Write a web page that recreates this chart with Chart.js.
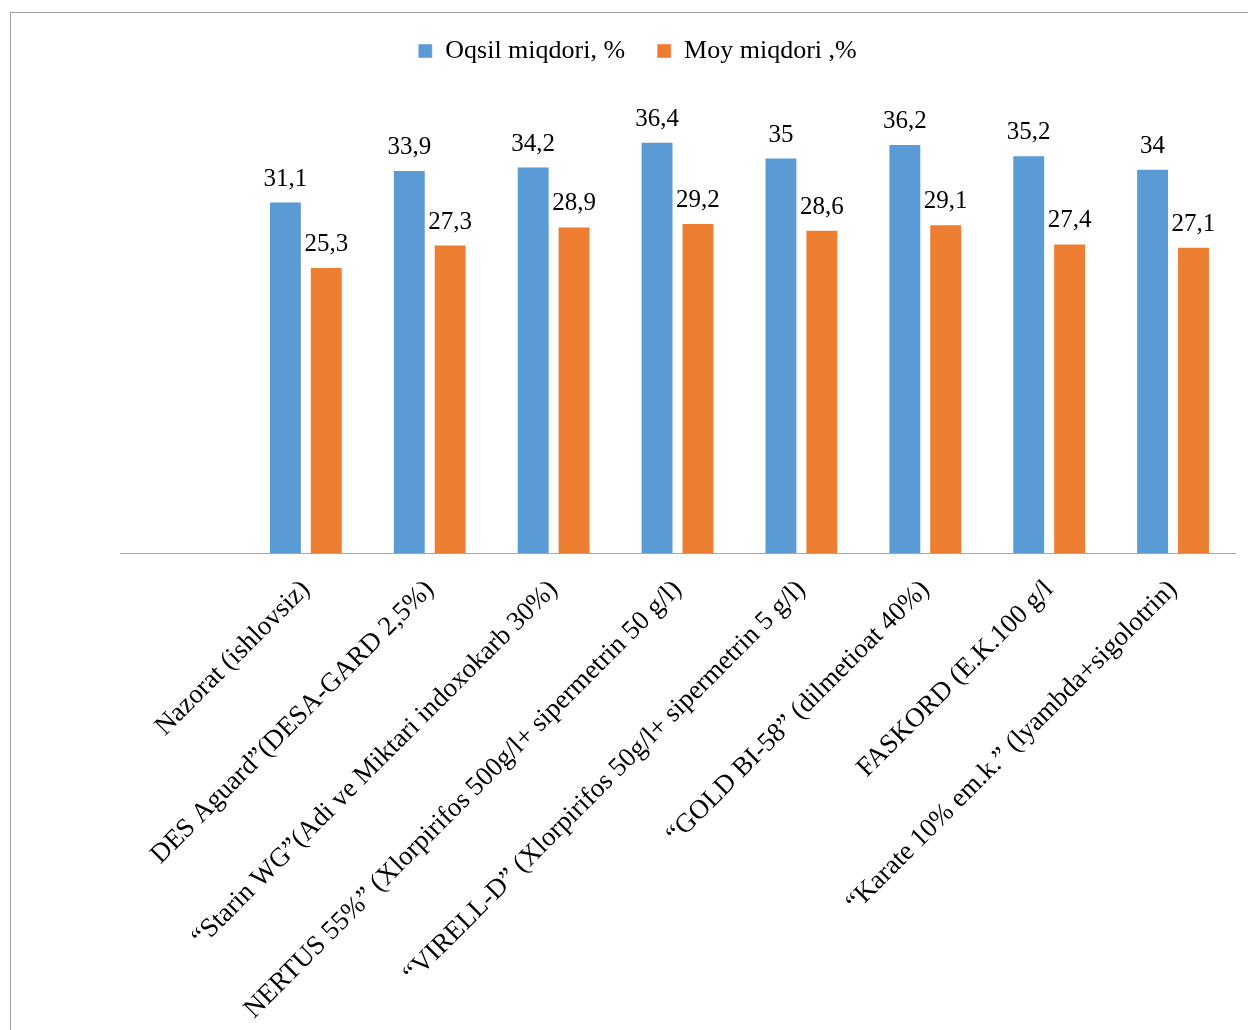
<!DOCTYPE html>
<html><head><meta charset="utf-8">
<script src="https://cdn.jsdelivr.net/npm/chart.js@4.4.1/dist/chart.umd.min.js"></script>
<style>
html,body{margin:0;padding:0;background:#fff;overflow:hidden;width:1248px;height:1030px;}
#frame{position:absolute;left:10px;top:12px;width:1300px;height:1100px;border-left:1px solid #A0A0A0;border-top:1px solid #A0A0A0;}
#c{position:absolute;left:0;top:0;}
</style></head><body>
<div id="frame"></div>
<canvas id="c" width="1282" height="1030"></canvas>
<script>
const categories = [
  "",
  "Nazorat (ishlovsiz)",
  "DES Aguard”(DESA-GARD 2,5%)",
  "“Starin WG”(Adi ve Miktari indoxokarb 30%)",
  "NERTUS 55%” (Xlorpirifos 500g/l+ sipermetrin 50 g/l)",
  "“VIRELL-D” (Xlorpirifos 50g/l+ sipermetrin 5 g/l)",
  "“GOLD BI-58” (dilmetioat 40%)",
  "FASKORD (E.K.100 g/l",
  "“Karate 10% em.k.” (lyambda+sigolotrin)"
];
const oqsilValues = [null, 31.1, 33.9, 34.2, 36.4, 35, 36.2, 35.2, 34];
const moyValues = [null, 25.3, 27.3, 28.9, 29.2, 28.6, 29.1, 27.4, 27.1];
const seriesNames = ["Oqsil miqdori, %", "Moy miqdori ,%"];
const seriesColors = ["#5B9BD5", "#ED7D31"];

const FONT = "'Liberation Serif', 'Times New Roman', serif";

const legendTweak = {
  id: 'legendTweak',
  beforeInit(chart) {
    if (!chart.legend) return;
    const lg = chart.legend;
    const fit = lg.fit;
    lg.fit = function () { fit.call(this); this.height += 27; };
    const draw = lg.draw;
    lg.draw = function () {
      const ctx = this.ctx;
      ctx.save();
      ctx.translate(-40, 0);
      draw.call(this);
      ctx.restore();
    };
  }
};

const valueLabels = {
  id: 'valueLabels',
  afterDatasetsDraw(chart) {
    const ctx = chart.ctx;
    ctx.save();
    ctx.font = "25px " + FONT;
    ctx.fillStyle = '#000';
    ctx.textAlign = 'center';
    ctx.textBaseline = 'alphabetic';
    chart.data.datasets.forEach((ds, i) => {
      const meta = chart.getDatasetMeta(i);
      meta.data.forEach((el, j) => {
        const v = ds.data[j];
        if (v == null) return;
        ctx.fillText(String(v).replace('.', ','), el.x, el.y - 16);
      });
    });
    ctx.restore();
  }
};

new Chart(document.getElementById('c'), {
  type: 'bar',
  data: {
    labels: categories,
    datasets: [
      { label: seriesNames[0], data: oqsilValues, backgroundColor: seriesColors[0], borderColor: 'rgba(255,255,255,0.4)', borderWidth: 1, categoryPercentage: 0.66, barPercentage: 0.805 },
      { label: seriesNames[1], data: moyValues, backgroundColor: seriesColors[1], borderColor: 'rgba(255,255,255,0.4)', borderWidth: 1, categoryPercentage: 0.66, barPercentage: 0.805 }
    ]
  },
  options: {
    responsive: false,
    animation: false,
    devicePixelRatio: 1,
    layout: { padding: { left: 120, right: 47, top: 6, bottom: 0 } },
    plugins: {
      legend: {
        position: 'top',
        labels: { boxWidth: 14, boxHeight: 14, padding: 32, color: '#000', font: { family: FONT, size: 26 } }
      },
      tooltip: { enabled: false }
    },
    scales: {
      x: {
        grid: { display: false, drawTicks: false },
        border: { display: true, color: '#A6A6A6', width: 1 },
        ticks: { autoSkip: false, maxRotation: 45, minRotation: 45, color: '#000', font: { family: FONT, size: 27 }, padding: 21 },
        afterFit(s) { s.height = 477; }
      },
      y: { display: false, min: 0, max: 40 }
    }
  },
  plugins: [legendTweak, valueLabels]
});
</script>
</body></html>
